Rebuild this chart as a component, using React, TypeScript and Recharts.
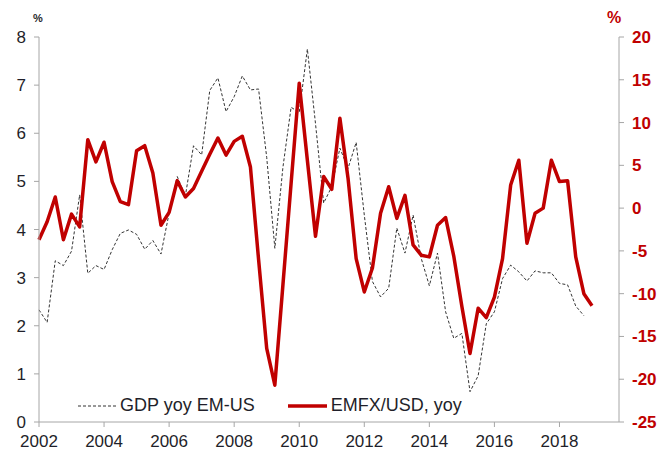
import React from "react";
import { LineChart, Line, XAxis, YAxis, Legend } from "recharts";

// quarterly, first point = 2002 Q1
const START_YEAR = 2002;

// GDP growth gap, EM minus US, % yoy (left axis)
const gdpSpread = [
  2.33, 2.07, 3.35, 3.25, 3.55, 4.72, 3.09, 3.25, 3.17, 3.58,
  3.92, 3.99, 3.9, 3.59, 3.77, 3.49, 4.34, 5.1, 4.7, 5.74,
  5.55, 6.89, 7.15, 6.45, 6.76, 7.19, 6.9, 6.92, 5.5, 3.61,
  5.3, 6.54, 6.43, 7.75, 6.2, 4.55, 4.89, 5.69, 5.27, 5.81,
  4.3, 2.92, 2.6, 2.78, 4.03, 3.51, 4.3, 3.4, 2.83, 3.51,
  2.29, 1.74, 1.84, 0.63, 0.96, 2.04, 2.29, 2.98, 3.26, 3.12,
  2.93, 3.14, 3.1, 3.1, 2.88, 2.85, 2.41, 2.21,
];

// EM FX vs USD, % yoy (right axis)
const emfxUsd = [
  -3.7, -1.6, 1.3, -3.7, -0.7, -2.2, 8.0, 5.4, 7.7, 3.1,
  0.75, 0.4, 6.7, 7.3, 4.1, -2.0, -0.5, 3.2, 1.3, 2.3,
  4.3, 6.3, 8.2, 6.2, 7.8, 8.4, 4.8, -6.0, -16.4, -20.7,
  -8.9, 2.9, 14.6, 5.6, -3.3, 3.7, 2.2, 10.5, 3.5, -5.9,
  -9.8, -7.0, -0.6, 2.5, -1.2, 1.5, -4.3, -5.5, -5.7, -2.0,
  -1.1, -5.6, -11.5, -17.0, -11.7, -12.8, -10.4, -5.9, 2.7, 5.6,
  -4.1, -0.6, 0.0, 5.6, 3.1, 3.2, -5.7, -10.0, -11.4,
];

const yearTicks = [2002, 2004, 2006, 2008, 2010, 2012, 2014, 2016, 2018];
const leftTicks = [0, 1, 2, 3, 4, 5, 6, 7, 8];
const rightTicks = [-25, -20, -15, -10, -5, 0, 5, 10, 15, 20];

const RED = "#c00000";
const AXIS = "#a6a6a6";
const TEXT = "#1f1f2a";

const data = emfxUsd.map((fx, i) => ({
  t: START_YEAR + i / 4,
  fx,
  gdp: i < gdpSpread.length ? gdpSpread[i] : null,
}));

function LegendBox() {
  return (
    <div style={{ display: "flex", alignItems: "center", fontSize: 18, color: TEXT, whiteSpace: "nowrap" }}>
      <svg width={40} height={10}>
        <line x1={0} y1={5} x2={39} y2={5} stroke="#333" strokeWidth={1} strokeDasharray="3 2" />
      </svg>
      <span style={{ marginLeft: 2 }}>GDP yoy EM-US</span>
      <svg width={40} height={10} style={{ marginLeft: 33 }}>
        <line x1={0} y1={5} x2={39} y2={5} stroke={RED} strokeWidth={3.5} />
      </svg>
      <span style={{ marginLeft: 3 }}>EMFX/USD, yoy</span>
    </div>
  );
}

export default function App() {
  return (
    <div
      style={{
        position: "absolute",
        left: 0,
        top: 0,
        width: 670,
        height: 450,
        background: "#fff",
        fontFamily: "'Liberation Sans', Arial, sans-serif",
      }}
    >
      <div style={{ position: "absolute", left: 33, top: 12, fontSize: 11, fontWeight: "bold", color: TEXT }}>%</div>
      <div style={{ position: "absolute", left: 607, top: 9, fontSize: 16, fontWeight: "bold", color: RED }}>%</div>

      <LineChart width={670} height={450} data={data} margin={{ top: 37, right: 1, bottom: 0, left: 8 }}>
        <XAxis
          dataKey="t"
          type="number"
          domain={[2002, 2019.83]}
          ticks={yearTicks}
          allowDecimals
          stroke={AXIS}
          tickSize={5}
          tickMargin={8}
          height={28}
          tick={{ fill: TEXT, fontSize: 17 }}
          tickLine={{ stroke: AXIS }}
        />
        <YAxis
          yAxisId="left"
          domain={[0, 8]}
          ticks={leftTicks}
          width={31}
          stroke={AXIS}
          tickSize={5}
          tickMargin={8}
          tick={{ fill: TEXT, fontSize: 17 }}
          tickLine={{ stroke: AXIS }}
        />
        <YAxis
          yAxisId="right"
          orientation="right"
          domain={[-25, 20]}
          ticks={rightTicks}
          width={50}
          stroke={AXIS}
          tickSize={5}
          tickMargin={8}
          tick={{ fill: RED, fontSize: 17, fontWeight: "bold" }}
          tickLine={{ stroke: AXIS }}
        />
        <Legend
          layout="horizontal"
          verticalAlign="middle"
          align="center"
          content={() => <LegendBox />}
          wrapperStyle={{ left: 78, top: 395, width: 420 }}
        />
        <Line
          yAxisId="left"
          dataKey="gdp"
          type="linear"
          stroke="#333"
          strokeWidth={1}
          strokeDasharray="3 2"
          dot={false}
          connectNulls={false}
          isAnimationActive={false}
        />
        <Line
          yAxisId="right"
          dataKey="fx"
          type="linear"
          stroke={RED}
          strokeWidth={3.5}
          strokeLinejoin="round"
          dot={false}
          isAnimationActive={false}
        />
      </LineChart>
    </div>
  );
}
